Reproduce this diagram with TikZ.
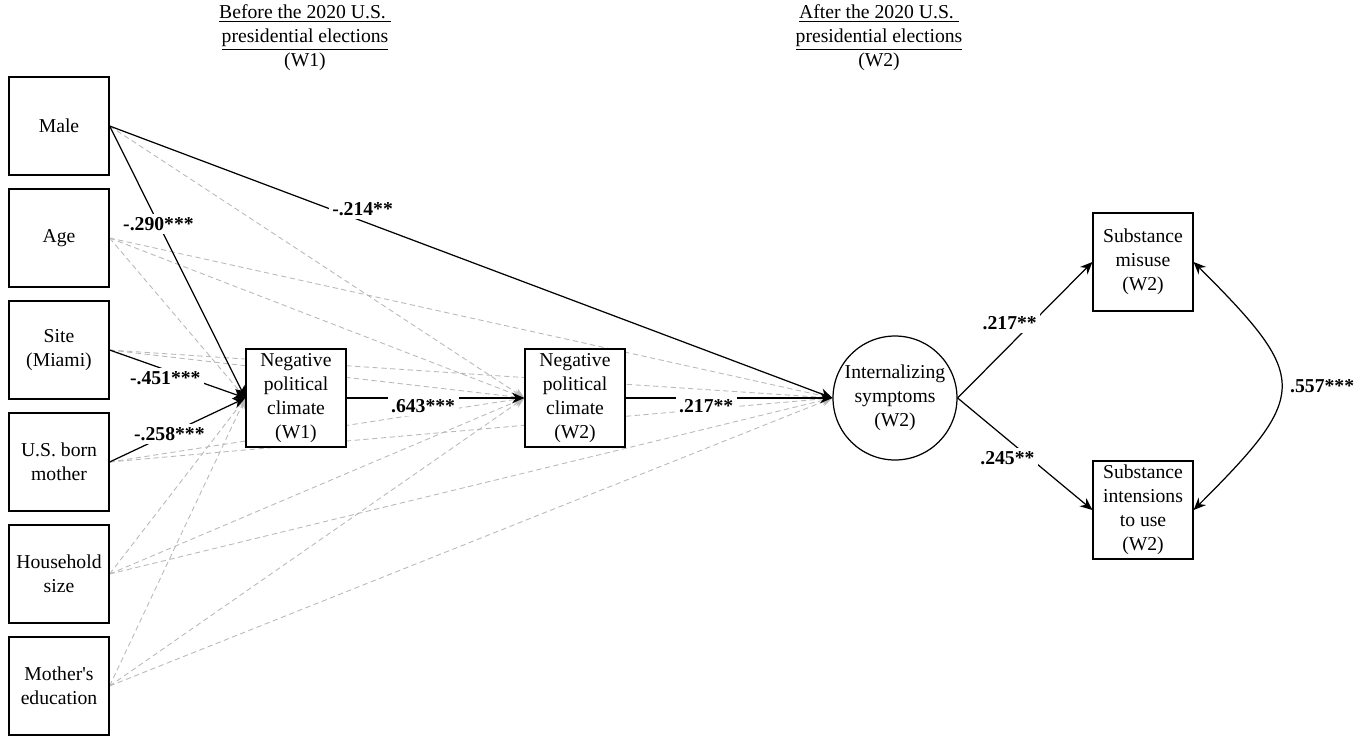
\documentclass[tikz,border=0pt]{standalone}
\usepackage{fontspec}
\setmainfont{Liberation Serif}
\usetikzlibrary{arrows.meta,backgrounds}

\begin{document}
\begin{tikzpicture}[x=0.02cm, y=0.02cm,
        font=\fontsize{11.2}{13.7}\selectfont,
        varbox/.style={draw, line width=0.7pt, fill=white, align=center, minimum width=2cm, minimum height=1.96cm, inner sep=0.5pt},
        latent/.style={draw, circle, line width=0.7pt, fill=white, align=center, minimum size=2.48cm, inner sep=0pt},
        sigpath/.style={line width=0.7pt, -{Stealth[length=7pt, width=6pt]}},
        nspath/.style={gray!55, line width=0.5pt, dash pattern=on 3pt off 2pt, -{Stealth[length=6pt, width=5pt]}},
        coef/.style={font=\fontsize{11.2}{13.7}\selectfont\bfseries, fill=white, inner sep=2pt},
        wave/.style={align=center}]
        \pgfmathsetmacro{\cx}{59};
        \pgfmathsetmacro{\dy}{112};
        \useasboundingbox (0,0) rectangle (1368,735);
        % time points
        \node[wave] (before) at (305,697) {\underline{Before the 2020 U.S.\ }\\ \underline{presidential elections}\\ (W1)};
        \node[wave] (after) at (879,697) {\underline{After the 2020 U.S.\ }\\ \underline{presidential elections}\\ (W2)};
        % covariates
        \node[varbox] (male) at (\cx, 609) {Male};
        \node[varbox] (age) at (\cx, 609 - 1*\dy) {Age};
        \node[varbox] (site) at (\cx, 609 - 2*\dy) {Site\\ (Miami)};
        \node[varbox] (usborn) at (\cx, 609 - 3*\dy) {U.S. born\\ mother};
        \node[varbox] (hhsize) at (\cx, 609 - 4*\dy) {Household\\ size};
        \node[varbox] (momedu) at (\cx, 609 - 5*\dy) {Mother\textquotesingle s\\ education};
        % mediators and outcomes
        \node[varbox] (npcone) at (296,337) {Negative\\ political\\ climate\\ (W1)};
        \node[varbox] (npctwo) at (575,337) {Negative\\ political\\ climate\\ (W2)};
        \node[latent] (intern) at (895,337) {Internalizing\\ symptoms\\ (W2)};
        \node[varbox] (misuse) at (1143,473) {Substance\\ misuse\\ (W2)};
        \node[varbox] (intent) at (1143,225) {Substance\\ intensions\\ to use\\ (W2)};
        % non-significant paths
        \begin{scope}[on background layer]
        \draw[nspath] (male.east) -- (npctwo.west);
        \draw[nspath] (age.east) -- (npcone.west);
        \draw[nspath] (age.east) -- (npctwo.west);
        \draw[nspath] (age.east) -- (intern.west);
        \draw[nspath] (site.east) -- (npctwo.west);
        \draw[nspath] (site.east) -- (intern.west);
        \draw[nspath] (usborn.east) -- (npctwo.west);
        \draw[nspath] (usborn.east) -- (intern.west);
        \draw[nspath] (hhsize.east) -- (npcone.west);
        \draw[nspath] (hhsize.east) -- (npctwo.west);
        \draw[nspath] (hhsize.east) -- (intern.west);
        \draw[nspath] (momedu.east) -- (npcone.west);
        \draw[nspath] (momedu.east) -- (npctwo.west);
        \draw[nspath] (momedu.east) -- (intern.west);
        \end{scope}
        % significant paths
        \draw[sigpath] (male.east) -- node[coef, pos=0.36] {-.290***} (npcone.west);
        \draw[sigpath] (male.east) -- node[coef, pos=0.35, yshift=0.24cm] {-.214**} (intern.west);
        \draw[sigpath] (site.east) -- node[coef, pos=0.41, yshift=-0.16cm] {-.451***} (npcone.west);
        \draw[sigpath] (usborn.east) -- node[coef, pos=0.44] {-.258***} (npcone.west);
        \draw[sigpath] (npcone.east) -- node[coef, pos=0.43, yshift=-0.16cm] {.643***} (npctwo.west);
        \draw[sigpath] (npctwo.east) -- node[coef, pos=0.39, yshift=-0.16cm] {.217**} (intern.west);
        \draw[sigpath] (intern.east) -- node[coef, pos=0.55, xshift=-0.44cm] {.217**} (misuse.west);
        \draw[sigpath] (intern.east) -- node[coef, pos=0.54, xshift=-0.46cm] {.245**} (intent.west);
        \draw[line width=0.7pt, {Stealth[length=7pt, width=6pt]}-{Stealth[length=7pt, width=6pt]}] (misuse.east) to[out=-45, in=45, looseness=1.7] node[coef, fill=none, pos=0.5, right=3pt] {.557***} (intent.east);
    \end{tikzpicture}
\end{document}
